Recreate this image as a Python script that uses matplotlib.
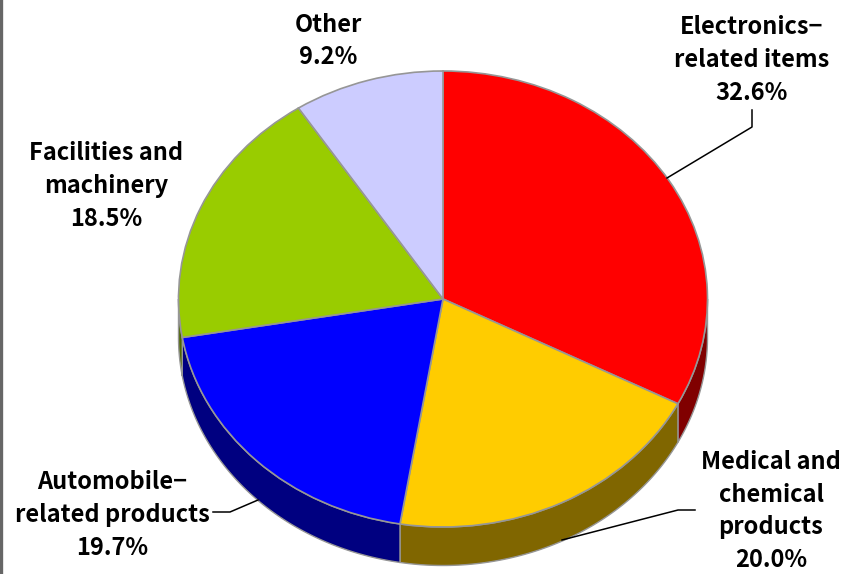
"""Pie chart with a fake 3D wall, drawn squashed to match the reference."""
import numpy as np
import matplotlib
matplotlib.use('Agg')
import matplotlib.pyplot as plt

labels = ['Electronics\u2212\nrelated items\n32.6%', 'Medical and\nchemical\nproducts\n20.0%',
          'Automobile\u2212\nrelated products\n19.7%', 'Facilities and\nmachinery\n18.5%', 'Other\n9.2%']
values = [32.6, 20.0, 19.7, 18.5, 9.2]
top_colors = ['#ff0000', '#ffcc00', '#0000ff', '#99cc00', '#ccccff']
wall_colors = ['#800000', '#806600', '#000080', '#4d6600', '#666680']

W, H = 847, 574
CX, CY, RX, RY = 443, 299, 264.5, 228
DEPTH = 38.5 / RY
EDGE = '#969696'

fig = plt.figure(figsize=(W / 100, H / 100), dpi=100)

# pie axes: radius 1 in data units, x and y scaled differently
ax = fig.add_axes([0, 0, 1, 1])
ax.pie(values, colors=top_colors, startangle=90, counterclock=False,
       wedgeprops={'edgecolor': EDGE, 'linewidth': 1.2, 'zorder': 3})
ax.set_aspect('auto')
ax.set_xlim(-CX / RX, (W - CX) / RX)
ax.set_ylim(-(H - CY) / RY, CY / RY)
ax.axis('off')

# walls, only for the part of each slice on the front half
edges = np.concatenate([[0], np.cumsum(values)]) / sum(values) * 360
for i, col in enumerate(wall_colors):
    a0, a1 = max(edges[i], 90), min(edges[i + 1], 270)
    if a1 <= a0:
        continue
    t = np.radians(np.linspace(a0, a1, 80))
    x, y = np.sin(t), np.cos(t)
    ax.fill(np.r_[x, x[::-1]], np.r_[y, y[::-1] - DEPTH], facecolor=col,
            edgecolor=EDGE, linewidth=1.0, zorder=2)

# overlay in reference pixels for labels and leader lines
ov = fig.add_axes([0, 0, 1, 1], facecolor='none')
ov.set_xlim(0, W)
ov.set_ylim(H, 0)
ov.axis('off')

label_pos = [(752, 60), (771, 511), (112, 515), (106, 186), (328, 41)]
for s, (x, y) in zip(labels, label_pos):
    ov.text(x, y, s, ha='center', va='center', fontsize=17, fontweight='bold',
            family=['Noto Sans CJK JP', 'DejaVu Sans'],
            linespacing=1.46, color='black')

ov.plot([752, 752, 667], [110, 127, 178], color='black', lw=1.1, zorder=5)
ov.plot([695, 678, 562], [510, 510, 540], color='black', lw=1.1, zorder=5)
ov.plot([213, 230, 258], [512, 512, 500], color='black', lw=1.1, zorder=5)
ov.plot([1, 1], [0, H], color='#666666', lw=2.4)

fig.savefig('out.png', dpi=100)
